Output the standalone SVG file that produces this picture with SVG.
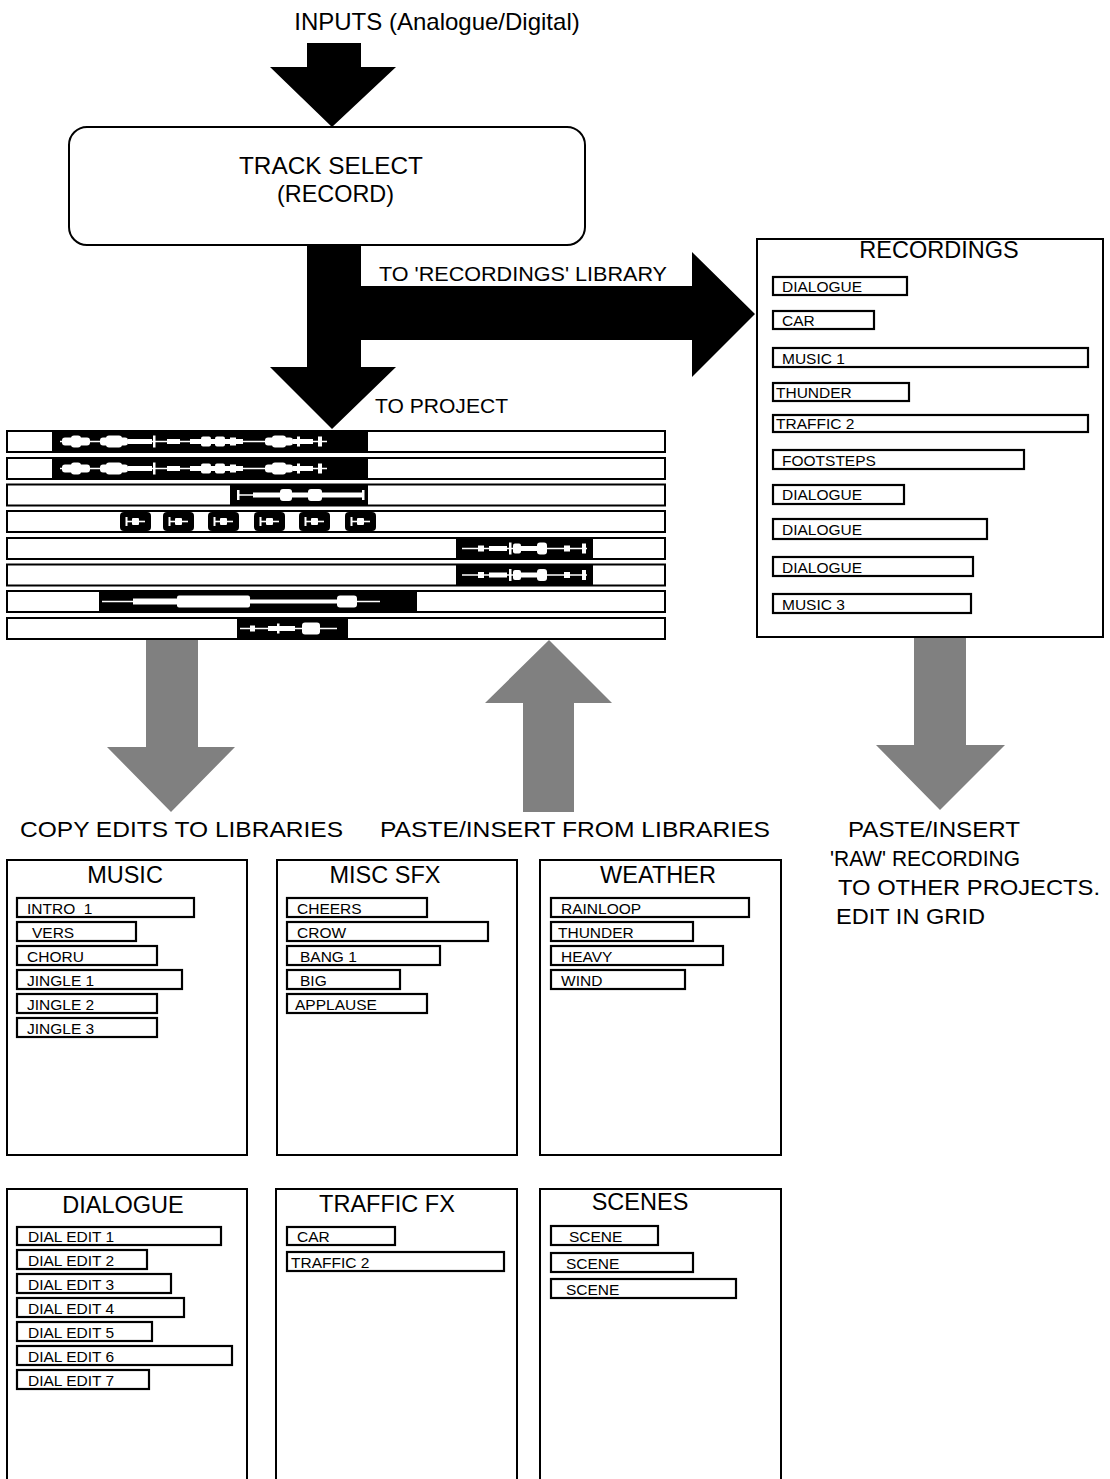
<svg xmlns="http://www.w3.org/2000/svg" width="1110" height="1479" viewBox="0 0 1110 1479">
<style>
text{font-family:"Liberation Sans",Arial,sans-serif;fill:#000}
.title{font-size:23.5px;text-anchor:middle}
.big{font-size:24px}
.lbl{font-size:21px}
.lbl2{font-size:22px}
.item{font-size:15.5px}
.box{fill:#fff;stroke:#000;stroke-width:2}
.it{fill:#fff;stroke:#000;stroke-width:2.2}
.trk{fill:#fff;stroke:#000;stroke-width:2}
.blk{fill:#000}
.wl{stroke:#fff;stroke-width:1.6;fill:none}
.wf{fill:#fff}
.ga{fill:#808080}
.ba{fill:#000}
</style>
<rect width="1110" height="1479" fill="#fff"/>

<g id="connectors">
  <polygon id="arrow-inputs" class="ba" points="307,43 361,43 361,67 396,67 332,127 270,67 307,67"/>
  <polygon id="arrow-to-project" class="ba" points="307,244 361,244 361,367 396,367 332,429 270,367 307,367"/>
  <polygon id="arrow-to-recordings" class="ba" points="360,286 692,286 692,252 755,314 692,377 692,340 360,340"/>
  <polygon id="arrow-copy-edits" class="ga" points="146,640 198,640 198,747 235,747 171,812 107,747 146,747"/>
  <polygon id="arrow-paste-insert" class="ga" points="549,640 612,703 574,703 574,812 523,812 523,703 485,703"/>
  <polygon id="arrow-raw" class="ga" points="914,637 966,637 966,745 1005,745 940,810 876,745 914,745"/>
</g>

<g id="labels">
  <text class="big" x="437" y="30" text-anchor="middle">INPUTS (Analogue/Digital)</text>
  <text class="lbl" x="379" y="281" textLength="288" lengthAdjust="spacingAndGlyphs">TO 'RECORDINGS' LIBRARY</text>
  <text class="lbl" x="375" y="413" textLength="133" lengthAdjust="spacingAndGlyphs">TO PROJECT</text>
  <text class="lbl2" x="20" y="837" textLength="323" lengthAdjust="spacingAndGlyphs">COPY EDITS TO LIBRARIES</text>
  <text class="lbl2" x="380" y="837" textLength="390" lengthAdjust="spacingAndGlyphs">PASTE/INSERT FROM LIBRARIES</text>
  <text class="lbl2" x="848" y="837" textLength="172" lengthAdjust="spacingAndGlyphs">PASTE/INSERT</text>
  <text class="lbl2" x="830" y="866" textLength="190" lengthAdjust="spacingAndGlyphs">'RAW' RECORDING</text>
  <text class="lbl2" x="838" y="895" textLength="262" lengthAdjust="spacingAndGlyphs">TO OTHER PROJECTS.</text>
  <text class="lbl2" x="836" y="924" textLength="149" lengthAdjust="spacingAndGlyphs">EDIT IN GRID</text>
</g>

<g id="track-select">
  <rect x="69" y="127" width="516" height="118" rx="18" class="box"/>
  <text class="big" x="239" y="174" textLength="184" lengthAdjust="spacingAndGlyphs">TRACK SELECT</text>
  <text class="big" x="277" y="202" textLength="117" lengthAdjust="spacingAndGlyphs">(RECORD)</text>
</g>

<g id="recordings">
  <rect x="757" y="239" width="346" height="398" class="box"/>
  <text class="title" x="939" y="258">RECORDINGS</text>
  <rect class="it" x="773" y="277" width="134" height="18"/><text class="item" x="782" y="292">DIALOGUE</text>
  <rect class="it" x="773" y="311" width="101" height="18"/><text class="item" x="782" y="326">CAR</text>
  <rect class="it" x="773" y="348" width="315" height="19"/><text class="item" x="782" y="364">MUSIC 1</text>
  <rect class="it" x="773" y="383" width="136" height="18"/><text class="item" x="776" y="398">THUNDER</text>
  <rect class="it" x="773" y="415" width="315" height="17"/><text class="item" x="776" y="429">TRAFFIC 2</text>
  <rect class="it" x="773" y="450" width="251" height="19"/><text class="item" x="782" y="466">FOOTSTEPS</text>
  <rect class="it" x="773" y="485" width="131" height="19"/><text class="item" x="782" y="500">DIALOGUE</text>
  <rect class="it" x="773" y="519" width="214" height="20"/><text class="item" x="782" y="535">DIALOGUE</text>
  <rect class="it" x="773" y="557" width="200" height="19"/><text class="item" x="782" y="573">DIALOGUE</text>
  <rect class="it" x="773" y="594" width="198" height="19"/><text class="item" x="782" y="610">MUSIC 3</text>
</g>

<g id="project-tracks">
  <g id="track-1">
    <rect class="trk" x="7" y="431" width="658" height="21"/>
    <rect class="blk" x="52" y="431" width="316" height="21"/>
    <g id="wave-a" transform="translate(0,441.5)">
      <line class="wl" x1="60" y1="0" x2="327" y2="0"/>
      <rect class="wf" x="62" y="-4" width="28" height="8" rx="3"/><rect class="wf" x="71" y="-6" width="10" height="12" rx="3"/>
      <rect class="wf" x="100" y="-4" width="28" height="8" rx="3"/><rect class="wf" x="106" y="-6" width="16" height="12" rx="3"/>
      <rect class="wf" x="128" y="-2.5" width="24" height="5"/>
      <rect class="wf" x="153" y="-6" width="2.5" height="12"/>
      <rect class="wf" x="167" y="-2.5" width="13" height="5"/>
      <rect class="wf" x="190" y="-2.5" width="53" height="5"/>
      <rect class="wf" x="201" y="-5" width="10" height="10" rx="2"/><rect class="wf" x="215" y="-5" width="10" height="10" rx="2"/><rect class="wf" x="230" y="-4" width="6" height="8"/>
      <rect class="wf" x="265" y="-4" width="28" height="8" rx="3"/><rect class="wf" x="272" y="-6" width="14" height="12" rx="3"/>
      <rect class="wf" x="293" y="-2.5" width="20" height="5"/><rect class="wf" x="297" y="-5" width="3" height="10"/>
      <rect class="wf" x="318" y="-5" width="4" height="10"/>
    </g>
  </g>
  <g id="track-2">
    <rect class="trk" x="7" y="458" width="658" height="21"/>
    <rect class="blk" x="52" y="458" width="316" height="21"/>
    <use href="#wave-a" transform="translate(0,27)"/>
  </g>
  <g id="track-3">
    <rect class="trk" x="7" y="484.5" width="658" height="21"/>
    <rect class="blk" x="230" y="484.5" width="138" height="21"/>
    <g transform="translate(0,495)">
      <line class="wl" x1="238" y1="0" x2="364" y2="0"/>
      <rect class="wf" x="237" y="-5" width="2.5" height="10"/>
      <rect class="wf" x="253" y="-2.5" width="110" height="5"/>
      <rect class="wf" x="280" y="-6" width="12" height="12" rx="3"/>
      <rect class="wf" x="308" y="-6" width="14" height="12" rx="3"/>
      <rect class="wf" x="362" y="-5" width="2.5" height="10"/>
    </g>
  </g>
  <g id="track-4">
    <rect class="trk" x="7" y="511" width="658" height="21"/>
    <g id="clip-a">
      <rect class="blk" x="120" y="512" width="31" height="19" rx="4"/>
      <line class="wl" x1="126" y1="521.5" x2="145" y2="521.5"/>
      <rect class="wf" x="125.5" y="517" width="2" height="9"/>
      <rect class="wf" x="132" y="518" width="7" height="7" rx="1"/>
    </g>
    <use href="#clip-a" transform="translate(43,0)"/>
    <use href="#clip-a" transform="translate(88,0)"/>
    <use href="#clip-a" transform="translate(134,0)"/>
    <use href="#clip-a" transform="translate(179,0)"/>
    <use href="#clip-a" transform="translate(225,0)"/>
  </g>
  <g id="track-5">
    <rect class="trk" x="7" y="538" width="658" height="21"/>
    <rect class="blk" x="456" y="538" width="137" height="21"/>
    <g id="wave-b" transform="translate(0,548.5)">
      <line class="wl" x1="462" y1="0" x2="587" y2="0"/>
      <rect class="wf" x="478" y="-3" width="6" height="6"/>
      <rect class="wf" x="489" y="-2.5" width="18" height="5"/>
      <rect class="wf" x="509" y="-6" width="2.5" height="12"/>
      <rect class="wf" x="513" y="-5" width="8" height="10" rx="2"/>
      <rect class="wf" x="521" y="-2.5" width="16" height="5"/>
      <rect class="wf" x="537" y="-6" width="10" height="12" rx="3"/>
      <rect class="wf" x="564" y="-3" width="6" height="6"/>
      <rect class="wf" x="582" y="-5" width="4" height="10"/>
    </g>
  </g>
  <g id="track-6">
    <rect class="trk" x="7" y="564.5" width="658" height="21"/>
    <rect class="blk" x="456" y="564.5" width="137" height="21"/>
    <use href="#wave-b" transform="translate(0,26.5)"/>
  </g>
  <g id="track-7">
    <rect class="trk" x="7" y="591" width="658" height="21"/>
    <rect class="blk" x="99" y="591" width="318" height="21"/>
    <g transform="translate(0,601.5)">
      <line class="wl" x1="102" y1="0" x2="380" y2="0"/>
      <rect class="wf" x="133" y="-3" width="44" height="6"/>
      <rect class="wf" x="177" y="-6" width="73" height="12" rx="2"/>
      <rect class="wf" x="250" y="-2" width="88" height="4"/>
      <rect class="wf" x="337" y="-6" width="20" height="12" rx="3"/>
    </g>
  </g>
  <g id="track-8">
    <rect class="trk" x="7" y="618" width="658" height="21"/>
    <rect class="blk" x="237" y="618" width="111" height="21"/>
    <g transform="translate(0,628.5)">
      <line class="wl" x1="240" y1="0" x2="337" y2="0"/>
      <rect class="wf" x="250" y="-3" width="5" height="6"/>
      <rect class="wf" x="268" y="-2.5" width="27" height="5"/>
      <rect class="wf" x="277" y="-5" width="2.5" height="10"/>
      <rect class="wf" x="302" y="-6" width="18" height="12" rx="3"/>
    </g>
  </g>
</g>

<g id="lib-music">
  <rect x="7" y="860" width="240" height="295" class="box"/>
  <text class="title" x="125" y="883">MUSIC</text>
  <rect class="it" x="17" y="898" width="177" height="19"/><text class="item" x="27" y="914" xml:space="preserve">INTRO  1</text>
  <rect class="it" x="17" y="922" width="119" height="19"/><text class="item" x="32" y="938">VERS</text>
  <rect class="it" x="17" y="946" width="140" height="19"/><text class="item" x="27" y="962">CHORU</text>
  <rect class="it" x="17" y="970" width="165" height="19"/><text class="item" x="27" y="986">JINGLE 1</text>
  <rect class="it" x="17" y="994" width="140" height="19"/><text class="item" x="27" y="1010">JINGLE 2</text>
  <rect class="it" x="17" y="1018" width="140" height="19"/><text class="item" x="27" y="1034">JINGLE 3</text>
</g>

<g id="lib-misc-sfx">
  <rect x="277" y="860" width="240" height="295" class="box"/>
  <text class="title" x="385" y="883">MISC SFX</text>
  <rect class="it" x="287" y="898" width="140" height="19"/><text class="item" x="297" y="914">CHEERS</text>
  <rect class="it" x="287" y="922" width="201" height="19"/><text class="item" x="297" y="938">CROW</text>
  <rect class="it" x="287" y="946" width="153" height="19"/><text class="item" x="300" y="962">BANG 1</text>
  <rect class="it" x="287" y="970" width="113" height="19"/><text class="item" x="300" y="986">BIG</text>
  <rect class="it" x="287" y="994" width="140" height="19"/><text class="item" x="295" y="1010">APPLAUSE</text>
</g>

<g id="lib-weather">
  <rect x="540" y="860" width="241" height="295" class="box"/>
  <text class="title" x="658" y="883">WEATHER</text>
  <rect class="it" x="551" y="898" width="198" height="19"/><text class="item" x="561" y="914">RAINLOOP</text>
  <rect class="it" x="551" y="922" width="142" height="19"/><text class="item" x="558" y="938">THUNDER</text>
  <rect class="it" x="551" y="946" width="172" height="19"/><text class="item" x="561" y="962">HEAVY</text>
  <rect class="it" x="551" y="970" width="134" height="19"/><text class="item" x="561" y="986">WIND</text>
</g>

<g id="lib-dialogue">
  <rect x="7" y="1189" width="240" height="320" class="box"/>
  <text class="title" x="123" y="1213">DIALOGUE</text>
  <rect class="it" x="17" y="1227" width="204" height="18"/><text class="item" x="28" y="1242">DIAL EDIT 1</text>
  <rect class="it" x="17" y="1250" width="130" height="19"/><text class="item" x="28" y="1266">DIAL EDIT 2</text>
  <rect class="it" x="17" y="1274" width="154" height="19"/><text class="item" x="28" y="1290">DIAL EDIT 3</text>
  <rect class="it" x="17" y="1298" width="167" height="19"/><text class="item" x="28" y="1314">DIAL EDIT 4</text>
  <rect class="it" x="17" y="1322" width="135" height="19"/><text class="item" x="28" y="1338">DIAL EDIT 5</text>
  <rect class="it" x="17" y="1346" width="215" height="19"/><text class="item" x="28" y="1362">DIAL EDIT 6</text>
  <rect class="it" x="17" y="1370" width="132" height="19"/><text class="item" x="28" y="1386">DIAL EDIT 7</text>
</g>

<g id="lib-traffic-fx">
  <rect x="276" y="1189" width="241" height="320" class="box"/>
  <text class="title" x="387" y="1212">TRAFFIC FX</text>
  <rect class="it" x="287" y="1227" width="108" height="18"/><text class="item" x="297" y="1242">CAR</text>
  <rect class="it" x="287" y="1252" width="217" height="19"/><text class="item" x="291" y="1268">TRAFFIC 2</text>
</g>

<g id="lib-scenes">
  <rect x="540" y="1189" width="241" height="320" class="box"/>
  <text class="title" x="640" y="1210">SCENES</text>
  <rect class="it" x="551" y="1226" width="107" height="19"/><text class="item" x="569" y="1242">SCENE</text>
  <rect class="it" x="551" y="1253" width="142" height="19"/><text class="item" x="566" y="1269">SCENE</text>
  <rect class="it" x="551" y="1279" width="185" height="19"/><text class="item" x="566" y="1295">SCENE</text>
</g>
</svg>
